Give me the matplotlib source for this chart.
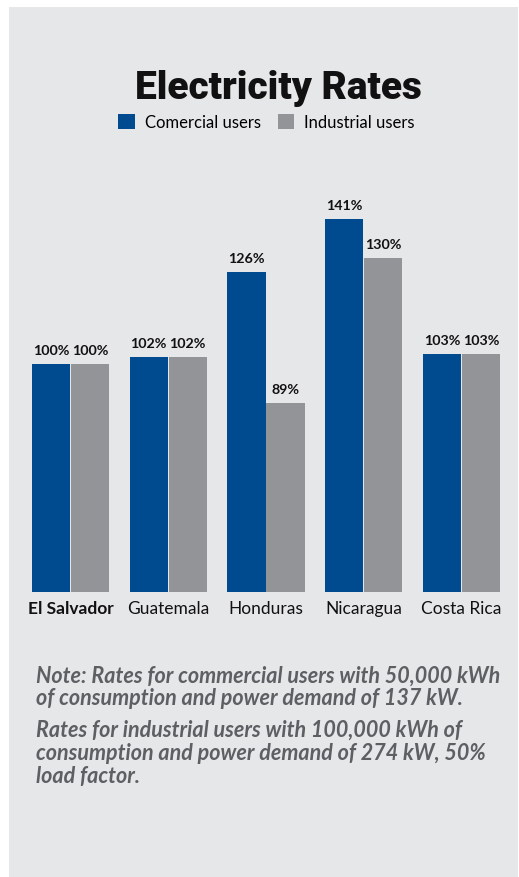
import numpy as np
import matplotlib
matplotlib.use("Agg")
import matplotlib.pyplot as plt
from matplotlib.patches import Rectangle, Patch

countries = ["El Salvador", "Guatemala", "Honduras", "Nicaragua", "Costa Rica"]
commercial = [100, 102, 126, 141, 103]
industrial = [100, 102, 89, 130, 103]
series_names = ["Comercial users", "Industrial users"]
note_lines = [
    ["Note: Rates for commercial users with 50,000 kWh",
     "of consumption and power demand of 137 kW."],
    ["Rates for industrial users with 100,000 kWh of",
     "consumption and power demand of 274 kW, 50%",
     "load factor."],
]

BLUE = "#004a8f"
GRAY = "#939498"
PANEL = "#e6e7e9"
NOTE = "#5e5f62"

W, H = 519, 878
fig = plt.figure(figsize=(W / 100, H / 100), dpi=100, facecolor="white")

# gray card behind everything
fig.patches.append(Rectangle((9 / W, 0), 509 / W, 870 / H, transform=fig.transFigure,
                             facecolor=PANEL, edgecolor="none", zorder=-5))

ax = fig.add_axes([21.6 / W, 285 / H, 488.8 / W, 443 / H], zorder=2)
ax.set_facecolor("none")

x = np.arange(len(countries))
w = 0.389
gap = 0.0102
b1 = ax.bar(x - (w + gap) / 2, commercial, w, color=BLUE, zorder=2)
b2 = ax.bar(x + (w + gap) / 2, industrial, w, color=GRAY, zorder=2)

for bars, vals in ((b1, commercial), (b2, industrial)):
    for rect, v in zip(bars, vals):
        ax.annotate(f"{v}%", (rect.get_x() + rect.get_width() / 2, v),
                    xytext=(0, 6), textcoords="offset points", ha="center", va="bottom",
                    fontsize=10.3, fontweight="bold", family="Lato", color="#111111")

ax.set_xlim(-0.5, len(countries) - 0.5)
ax.set_ylim(35.8, 160.8)
ax.set_yticks([])
ax.set_xticks(x)
ax.set_xticklabels(countries, family="Lato", fontsize=12.5, color="#111111")
ax.get_xticklabels()[0].set_fontweight("bold")
ax.tick_params(axis="x", length=0, pad=6)
for s in ax.spines.values():
    s.set_visible(False)

fig.text(278.5 / W, 1 - 99 / H, "Electricity Rates", ha="center", va="baseline",
         fontsize=28, fontweight="black", family="Roboto", color="#111111")

handles = [Patch(facecolor=BLUE), Patch(facecolor=GRAY)]
fig.legend(handles, series_names, ncol=2, frameon=False, loc="center",
           bbox_to_anchor=(266.5 / W, 1 - 123 / H), handlelength=1.0, handleheight=1.0,
           handletextpad=0.6, columnspacing=1.0,
           prop={"family": "Lato", "size": 12})

baselines = [[683, 705], [737, 760, 783]]
for lines, ys in zip(note_lines, baselines):
    for line, yy in zip(lines, ys):
        fig.text(36 / W, 1 - yy / H, line, ha="left", va="baseline", fontsize=15.5,
                 style="italic", fontweight="bold", family="Lato", color=NOTE)

fig.savefig("out.png", dpi=100, facecolor="white")
